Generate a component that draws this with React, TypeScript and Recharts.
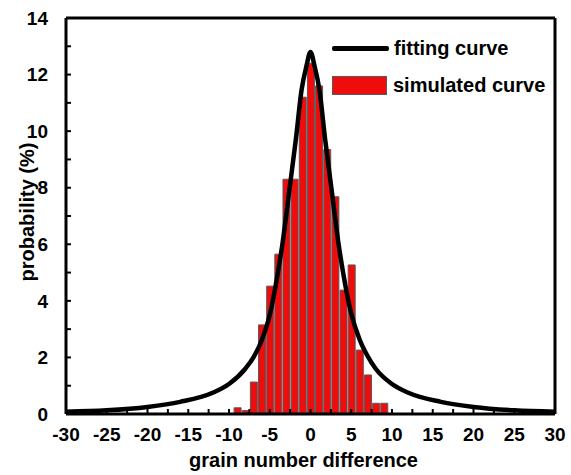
import React from 'react';
import { ComposedChart, Bar, Line, XAxis, YAxis, Legend } from 'recharts';

// simulated histogram (one bar per integer grain number difference)
const barX = [-9, -8, -7, -6, -5, -4, -3, -2, -1, 0, 1, 2, 3, 4, 5, 6, 7, 8, 9];
const barP = [0.22, 0.12, 1.13, 3.15, 4.52, 5.65, 8.3, 8.3, 11.2, 12.4, 11.6, 9.35, 7.68, 4.38, 5.27, 2.26, 1.38, 0.38, 0.38];

// fitting curve
const fitX = [-30, -25, -20, -16, -12, -10, -8, -7, -6, -5, -4, -3.4, -2.6, -1.8, -1.1, -0.5, 0,
  0.5, 1.1, 1.8, 2.6, 3.4, 4, 5, 6, 7, 8, 10, 12, 16, 20, 25, 30];
const fitY = [0.08, 0.13, 0.25, 0.43, 0.75, 1.06, 1.6, 2.0, 2.6, 3.5, 5.0, 6.1, 7.9, 9.7, 11.45, 12.3, 12.8,
  12.3, 11.45, 9.7, 7.9, 6.1, 5.0, 3.55, 2.65, 2.05, 1.6, 1.06, 0.75, 0.43, 0.25, 0.13, 0.08];

const xTicks = [-30, -27.5, -25, -22.5, -20, -17.5, -15, -12.5, -10, -7.5, -5, -2.5, 0,
  2.5, 5, 7.5, 10, 12.5, 15, 17.5, 20, 22.5, 25, 27.5, 30];
const yTicks = [0, 1, 2, 3, 4, 5, 6, 7, 8, 9, 10, 11, 12, 13, 14];

const barData = barX.map((x, i) => ({ x, p: barP[i] }));
const fitData = fitX.map((x, i) => ({ x, fit: fitY[i] }));

const COLORS = {
  BAR: '#ee0c0c',
  BAR_EDGE: '#5a5a5a',
  FIT: '#000000',
};

const tickFont = { fill: '#000', fontSize: 19, fontWeight: 'bold' as const };
const axisStroke = { stroke: '#000', strokeWidth: 3 };

const LegendBox = () => (
  <div style={{ fontSize: 20, fontWeight: 'bold', color: '#000' }}>
    <div style={{ display: 'flex', alignItems: 'center', height: 20 }}>
      <div style={{ width: 57, height: 5, background: COLORS.FIT, borderRadius: 2 }} />
      <span style={{ marginLeft: 5 }}>fitting curve</span>
    </div>
    <div style={{ display: 'flex', alignItems: 'center', height: 20, marginTop: 17 }}>
      <div style={{ width: 53, height: 17, background: COLORS.BAR, border: `1px solid ${COLORS.BAR_EDGE}` }} />
      <span style={{ marginLeft: 6 }}>simulated curve</span>
    </div>
  </div>
);

const App = () => (
  <div style={{ position: 'absolute', left: 0, top: 0, fontFamily: '"Liberation Sans", Arial, sans-serif', background: '#fff' }}>
    <ComposedChart width={571} height={475} data={barData} margin={{ top: 17, right: 15, left: 8, bottom: 3 }}>
      <XAxis
        xAxisId="bottom"
        dataKey="x"
        type="number"
        domain={[-30, 30]}
        ticks={xTicks}
        interval={0}
        allowDataOverflow
        height={58}
        tickSize={-5}
        tickMargin={19}
        tick={tickFont}
        tickFormatter={(v) => (v % 5 === 0 ? `${v}` : '')}
        axisLine={axisStroke}
        tickLine={{ stroke: '#000', strokeWidth: 2 }}
        label={{ value: 'grain number difference', position: 'insideBottom', offset: 5, fill: '#000', fontSize: 20, fontWeight: 'bold', dx: -7 }}
      />
      <XAxis
        xAxisId="top"
        orientation="top"
        dataKey="x"
        type="number"
        domain={[-30, 30]}
        ticks={xTicks}
        interval={0}
        allowDataOverflow
        height={1}
        tickSize={-5}
        tick={false}
        axisLine={axisStroke}
        tickLine={{ stroke: '#000', strokeWidth: 2 }}
      />
      <YAxis
        yAxisId="left"
        type="number"
        domain={[0, 14]}
        ticks={yTicks}
        interval={0}
        allowDataOverflow
        width={58}
        tickSize={-5}
        tickMargin={23}
        tick={tickFont}
        tickFormatter={(v) => (v % 2 === 0 ? `${v}` : '')}
        axisLine={axisStroke}
        tickLine={{ stroke: '#000', strokeWidth: 2 }}
        label={{ value: 'probability (%)', angle: -90, position: 'center', dx: -10, dy: -4, fill: '#000', fontSize: 20, fontWeight: 'bold' }}
      />
      <YAxis
        yAxisId="right"
        orientation="right"
        type="number"
        domain={[0, 14]}
        ticks={yTicks}
        interval={0}
        allowDataOverflow
        width={1}
        tickSize={-5}
        tick={false}
        axisLine={axisStroke}
        tickLine={{ stroke: '#000', strokeWidth: 2 }}
      />
      <Legend
        layout="horizontal"
        align="center"
        verticalAlign="middle"
        content={() => <LegendBox />}
        wrapperStyle={{ position: 'absolute', left: 332, top: 38, width: 'auto', bottom: 'auto' }}
      />
      <Bar
        xAxisId="bottom"
        yAxisId="left"
        dataKey="p"
        barSize={7}
        fill={COLORS.BAR}
        stroke={COLORS.BAR_EDGE}
        strokeWidth={1}
        isAnimationActive={false}
      />
      <Line
        xAxisId="top"
        yAxisId="left"
        data={fitData}
        dataKey="fit"
        type="monotone"
        stroke={COLORS.FIT}
        strokeWidth={4.5}
        dot={false}
        activeDot={false}
        isAnimationActive={false}
      />
    </ComposedChart>
  </div>
);

export default App;
